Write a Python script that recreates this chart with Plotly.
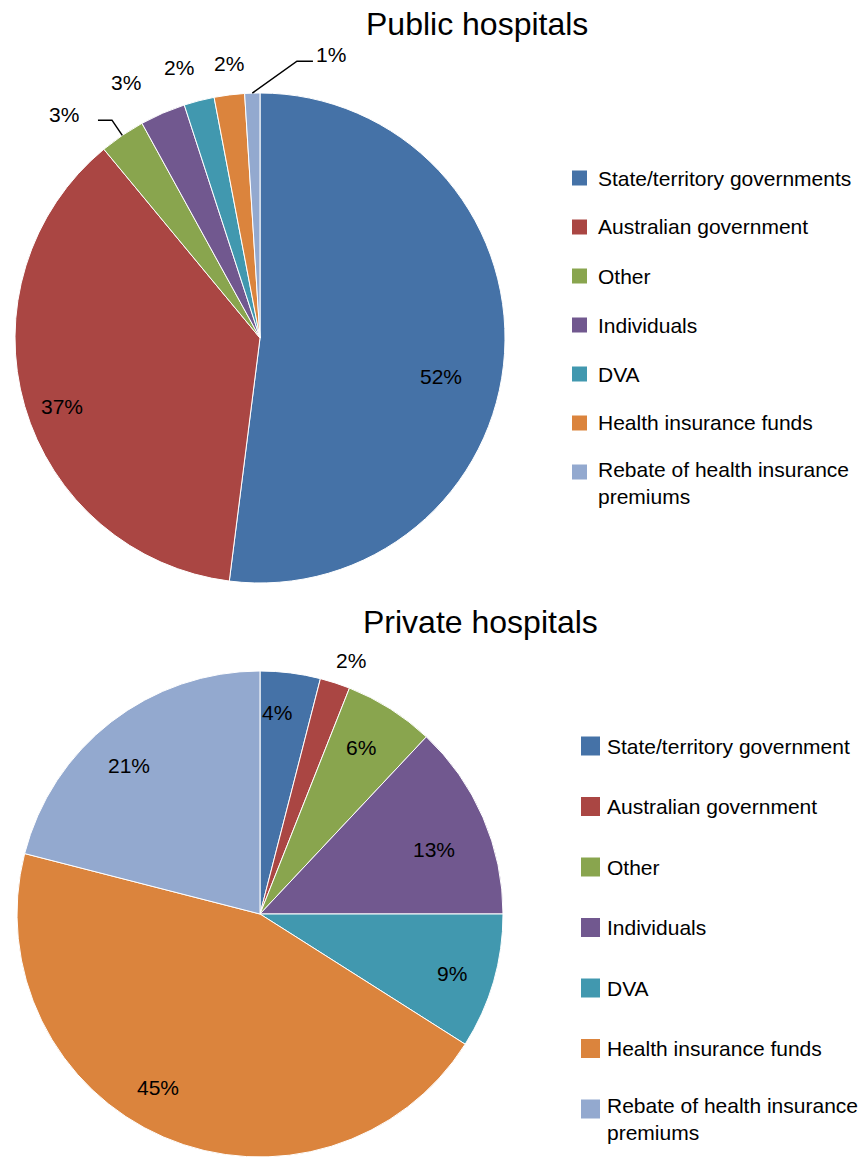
import math
import plotly.graph_objects as go

# ---- data -------------------------------------------------------------
public_labels = [
    "State/territory governments",
    "Australian government",
    "Other",
    "Individuals",
    "DVA",
    "Health insurance funds",
    "Rebate of health insurance\npremiums",
]
public_values = [52, 37, 3, 3, 2, 2, 1]

private_labels = [
    "State/territory government",
    "Australian government",
    "Other",
    "Individuals",
    "DVA",
    "Health insurance funds",
    "Rebate of health insurance\npremiums",
]
private_values = [4, 2, 6, 13, 9, 45, 21]

slice_colors = ["#4572A7", "#AA4643", "#89A54E", "#71588F",
                "#4198AF", "#DB843D", "#93A9CF"]

# ---- layout settings ----------------------------------------------------
W, H = 863, 1157
FONT = "Arial, Liberation Sans, sans-serif"

# pie boxes in pixels: (left, top, right, bottom)
pub_box = (15, 93, 505, 583)
prv_box = (15, 671, 505, 1157)

# label placement: radius as a fraction of the pie radius, angle nudge (deg)
pub_label_r = [0.755, 0.853, 1.212, 1.176, 1.151, 1.129, 1.191]
pub_label_nudge = [8.3, -2.8, -7.1, -4.3, -2.3, 0.8, 15.9]
prv_label_r = [0.831, 1.110, 0.802, 0.763, 0.829, 0.828, 0.816]
prv_label_nudge = [-2.4, 1.8, -1.1, 3.2, 1.0, 7.0, -3.5]

# leader lines on the public pie: slice index, elbow radius, elbow nudge, tail
pub_leaders = [
    dict(idx=2, elbow_r=1.075, elbow_nudge=0.0, tail=-14),
    dict(idx=6, elbow_r=1.14, elbow_nudge=9.4, tail=16),
]


def px_to_paper(x, y):
    return x / W, 1 - y / H


def box_domain(box):
    l, t, r, b = box
    return dict(x=[l / W, r / W], y=[1 - b / H, 1 - t / H])


def box_geometry(box):
    l, t, r, b = box
    return (l + r) / 2, (t + b) / 2, min(r - l, b - t) / 2


def mid_angles(values):
    total = sum(values)
    out, acc = [], 0.0
    for v in values:
        out.append((acc + v / 2) / total * 360.0)
        acc += v
    return out


def polar(cx, cy, rad, ang):
    a = math.radians(ang)
    return cx + rad * math.sin(a), cy - rad * math.cos(a)


fig = go.Figure()
annotations = []
shapes = []


def add_pie(labels, values, box, label_r, label_nudge, leaders):
    fig.add_trace(go.Pie(
        labels=[s.replace("\n", " ") for s in labels],
        values=values,
        sort=False,
        direction="clockwise",
        rotation=0,
        domain=box_domain(box),
        marker=dict(colors=slice_colors, line=dict(color="white", width=1)),
        textinfo="none",
        hoverinfo="label+percent",
        showlegend=False,
    ))
    cx, cy, R = box_geometry(box)
    mids = mid_angles(values)
    for i, v in enumerate(values):
        x, y = polar(cx, cy, R * label_r[i], mids[i] + label_nudge[i])
        px, py = px_to_paper(x, y)
        annotations.append(dict(
            x=px, y=py, xref="paper", yref="paper", text=f"{v}%",
            showarrow=False, xanchor="center", yanchor="middle",
            font=dict(family=FONT, size=21, color="#000000"),
        ))
    for ld in leaders:
        i = ld["idx"]
        sx, sy = polar(cx, cy, R, mids[i])
        ex, ey = polar(cx, cy, R * ld["elbow_r"], mids[i] + ld["elbow_nudge"])
        tx, ty = ex + ld["tail"], ey
        pts = [px_to_paper(sx, sy), px_to_paper(ex, ey), px_to_paper(tx, ty)]
        path = "M {} {} L {} {} L {} {}".format(*[c for p in pts for c in p])
        shapes.append(dict(type="path", path=path, xref="paper", yref="paper",
                           line=dict(color="#000000", width=1.5)))


def add_legend(labels, sq_x, sq, text_x, y0, dy, line_gap):
    for i, lab in enumerate(labels):
        yc = y0 + i * dy
        x0, y0p = px_to_paper(sq_x, yc - sq / 2)
        x1, y1p = px_to_paper(sq_x + sq, yc + sq / 2)
        shapes.append(dict(type="rect", xref="paper", yref="paper",
                           x0=x0, x1=x1, y0=y1p, y1=y0p,
                           fillcolor=slice_colors[i], line=dict(width=0)))
        parts = lab.split("\n")
        tx, ty = px_to_paper(text_x, yc + (len(parts) - 1) * line_gap / 2)
        annotations.append(dict(
            x=tx, y=ty, xref="paper", yref="paper", text="<br>".join(parts),
            showarrow=False, xanchor="left", yanchor="middle", align="left",
            font=dict(family=FONT, size=21, color="#000000"),
        ))


add_pie(public_labels, public_values, pub_box, pub_label_r, pub_label_nudge,
        pub_leaders)
add_pie(private_labels, private_values, prv_box, prv_label_r, prv_label_nudge,
        [])

add_legend(public_labels, 572, 15, 596, 178, 49, 22)
add_legend(private_labels, 581, 19, 605, 746, 60.5, 19)

for title, (tx, ty) in [("Public hospitals", (477, 24)),
                        ("Private hospitals", (480, 622))]:
    px, py = px_to_paper(tx, ty)
    annotations.append(dict(
        x=px, y=py, xref="paper", yref="paper", text=title,
        showarrow=False, xanchor="center", yanchor="middle",
        font=dict(family=FONT, size=32, color="#000000"),
    ))

fig.update_layout(
    width=W, height=H,
    margin=dict(l=0, r=0, t=0, b=0),
    paper_bgcolor="white",
    plot_bgcolor="white",
    annotations=annotations,
    shapes=shapes,
    showlegend=False,
)

fig.write_html("out.html")
